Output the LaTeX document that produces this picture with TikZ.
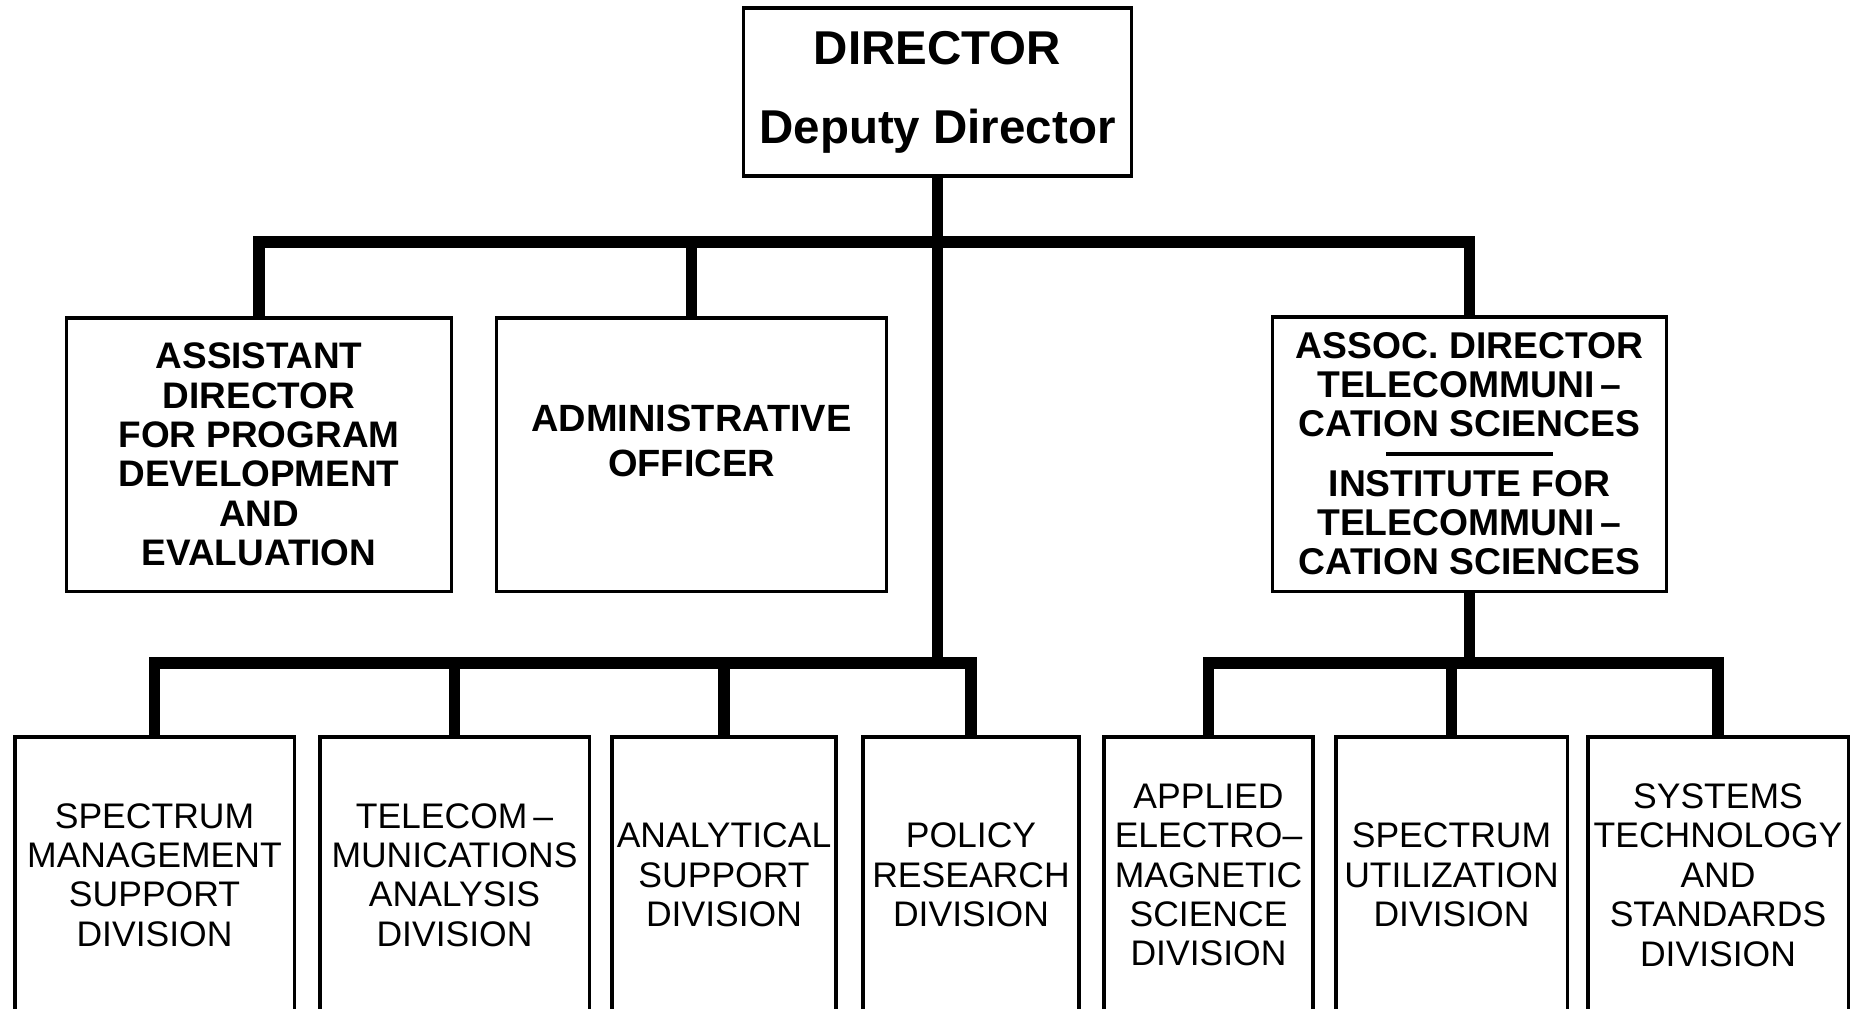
\documentclass[tikz,border=0pt]{standalone}
\usepackage{fontspec}
\setmainfont{Liberation Sans}
\begin{document}
\begin{tikzpicture}[x=0.01cm, y=-0.01cm,
    box/.style={draw, line width=0.9pt, inner sep=0pt, align=center},
    headbox/.style={box, font=\fontsize{10.5}{11.2}\selectfont\bfseries, minimum height=2.73cm},
    divbox/.style={box, font=\fontsize{10.1}{11.2}\selectfont, minimum height=2.76cm},
    link/.style={line width=3.2pt, line join=miter}]
\useasboundingbox (0,0) rectangle (1857,1009);
\clip (0,0) rectangle (1857,1009);

% Director
\node[box, minimum width=3.87cm, minimum height=1.68cm, font=\fontsize{13.5}{22.5}\selectfont\bfseries] (dir) at (937.5,92) {DIRECTOR\\Deputy Director};

% Segundo nivel
\node[headbox, minimum width=3.84cm] (asst) at (259,454.5) {ASSISTANT\\DIRECTOR\\FOR PROGRAM\\DEVELOPMENT\\AND\\EVALUATION};
\node[headbox, minimum width=3.89cm, font=\fontsize{10.8}{12.8}\selectfont\bfseries] (admin) at (691.5,454.5) {\raisebox{0.14cm}[0.72em][0pt]{ADMINISTRATIVE}\\\raisebox{0.14cm}[0.72em][0pt]{OFFICER}};
\node[headbox, minimum width=3.93cm, minimum height=2.74cm, font=\fontsize{10.6}{11.1}\selectfont\bfseries] (assoc) at (1469.5,454) {ASSOC. DIRECTOR\\TELECOMMUNI\,--\\CATION SCIENCES\\[0.21cm]INSTITUTE FOR\\TELECOMMUNI\,--\\CATION SCIENCES};
\draw[line width=1.2pt] ([xshift=-0.83cm]assoc.center) -- ([xshift=0.83cm]assoc.center);

% Divisiones
\node[divbox, minimum width=2.79cm] (smsd) at (154.5,875) {SPECTRUM\\MANAGEMENT\\SUPPORT\\DIVISION};
\node[divbox, minimum width=2.69cm] (tad) at (454.5,875) {TELECOM\,--\\MUNICATIONS\\ANALYSIS\\DIVISION};
\node[divbox, minimum width=2.24cm] (asd) at (724,875) {ANALYTICAL\\SUPPORT\\DIVISION};
\node[divbox, minimum width=2.16cm] (prd) at (971,875) {POLICY\\RESEARCH\\DIVISION};
\node[divbox, minimum width=2.09cm] (aesd) at (1208.5,875) {APPLIED\\ELECTRO--\\MAGNETIC\\SCIENCE\\DIVISION};
\node[divbox, minimum width=2.31cm] (sud) at (1451.5,875) {SPECTRUM\\UTILIZATION\\DIVISION};
\node[divbox, minimum width=2.60cm] (stsd) at (1718,875) {SYSTEMS\\TECHNOLOGY\\AND\\STANDARDS\\DIVISION};

% Conexiones
\coordinate (topbus) at (0,242);
\coordinate (lowbus) at (0,663);
\draw[link] (dir.south) -- (dir.south |- lowbus);
\draw[link] (asst.north) |- (assoc.north |- topbus) -- (assoc.north);
\draw[link] (admin.north) -- (admin.north |- topbus);
\draw[link] (smsd.north) |- (prd.north |- lowbus) -- (prd.north);
\draw[link] (tad.north) -- (tad.north |- lowbus);
\draw[link] (asd.north) -- (asd.north |- lowbus);
\draw[link] (assoc.south) -- (assoc.south |- lowbus);
\draw[link] (aesd.north) |- (stsd.north |- lowbus) -- (stsd.north);
\draw[link] (sud.north) -- (sud.north |- lowbus);
\end{tikzpicture}
\end{document}
